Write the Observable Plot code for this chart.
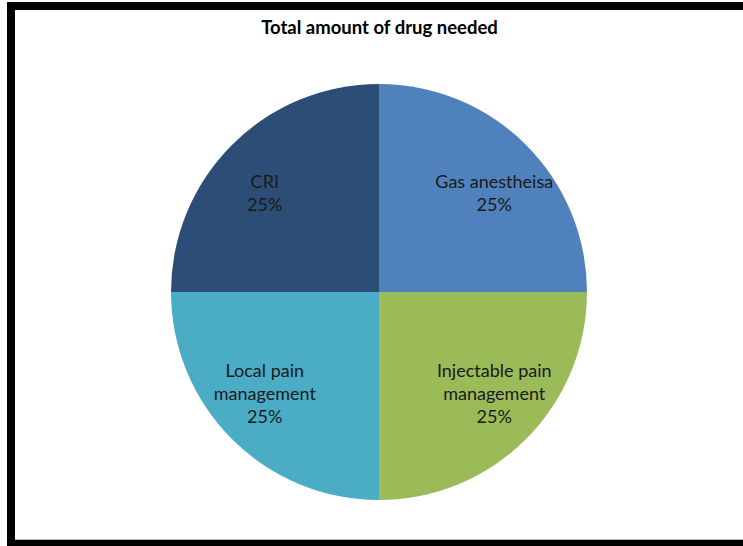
<!DOCTYPE html>
<html>
<head>
<meta charset="utf-8">
<script src="https://cdn.jsdelivr.net/npm/d3@7"></script>
<script src="https://cdn.jsdelivr.net/npm/@observablehq/plot@0.6"></script>
<style>
  html, body { margin: 0; padding: 0; background: #fff; }
  #wrap { position: relative; width: 743px; height: 546px; overflow: hidden; background: #fff; }
  #title { height: 40px; margin: 0; text-align: center; font-family: Lato, "Noto Sans", sans-serif; font-weight: bold; font-size: 18.5px; color: #000; padding-left: 16px; box-sizing: border-box; padding-top: 6px; line-height: 42px;}
  #frame { position: absolute; left: 7px; top: 2px; width: 760px; height: 544px; box-sizing: border-box; border-top: 8px solid #000; border-left: 8px solid #000; border-bottom: 6px solid #000; pointer-events: none; }
  #frame::after { content: ""; position: absolute; left: 0; right: 0; bottom: 0; height: 1px; background: #bbb; }
</style>
</head>
<body>
<div id="wrap">
  <div id="title">Total amount of drug needed</div>
  <div id="chart"></div>
  <div id="frame"></div>
</div>
<script>
const categories = ["Gas anestheisa", "Injectable pain management", "Local pain management", "CRI"];
const labels = ["Gas anestheisa", "Injectable pain\nmanagement", "Local pain\nmanagement", "CRI"];
const values = [25, 25, 25, 25];
const colors = ["#4f81bd", "#9bbb59", "#4bacc6", "#2c4d75"];

const data = categories.map((c, i) => ({category: c, label: labels[i], value: values[i]}));
const total = d3.sum(values);
const arcs = d3.pie().sort(null).value(d => d.value)(data);
const colorOf = d3.scaleOrdinal(categories, colors);

const kx = 0.78, ky = 0.68;
const labelData = arcs.map(a => {
  const mid = (a.startAngle + a.endAngle) / 2;
  return {
    x: Math.sin(mid) * kx,
    y: Math.cos(mid) * ky,
    text: `${a.data.label}\n${Math.round(a.data.value / total * 100)}%`
  };
});

const pieMark = (index, scales) => {
  const cx = scales.x(0), cy = scales.y(0);
  const r = Math.abs(scales.x(1) - scales.x(0));
  const g = d3.create("svg:g").attr("transform", `translate(${cx},${cy})`);
  g.selectAll("path").data(arcs).join("path")
    .attr("d", d3.arc().innerRadius(0).outerRadius(r))
    .attr("fill", d => colorOf(d.data.category));
  return g.node();
};

const plot = Plot.plot({
  width: 743,
  height: 506,
  marginLeft: 171,
  marginRight: 156,
  marginTop: 44,
  marginBottom: 46,
  x: {domain: [-1, 1], axis: null},
  y: {domain: [-1, 1], axis: null},
  style: {background: "transparent", overflow: "visible"},
  marks: [
    pieMark,
    Plot.text(labelData, {
      x: "x", y: "y", text: "text",
      fill: "#1a1a1a",
      fontSize: 18,
      lineHeight: 1.27,
      fontFamily: "Lato, 'Noto Sans', sans-serif"
    })
  ]
});
document.getElementById("chart").appendChild(plot);
</script>
</body>
</html>
